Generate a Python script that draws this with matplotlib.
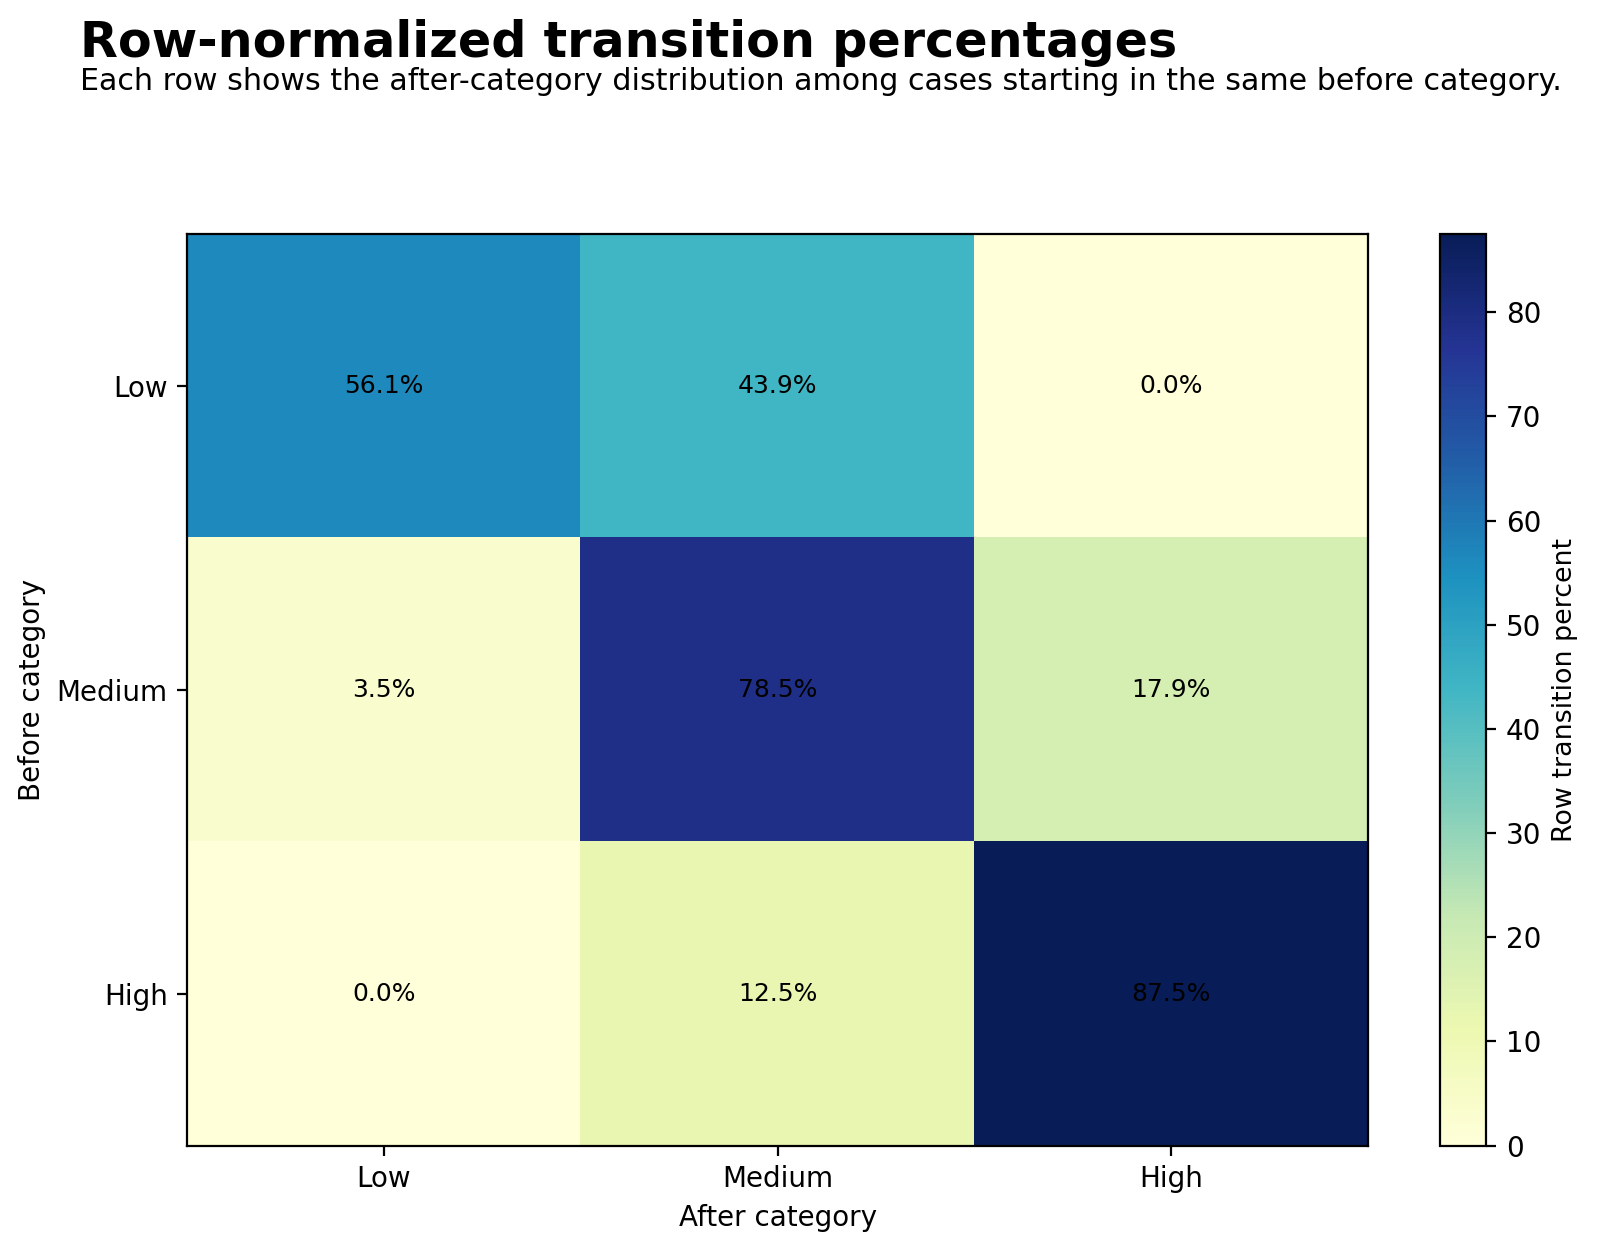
import numpy as np
import matplotlib.pyplot as plt

categories = ["Low", "Medium", "High"]
percent = np.array([
    [56.1, 43.9, 0.0],
    [3.5, 78.5, 17.9],
    [0.0, 12.5, 87.5],
])

fig = plt.figure(figsize=(8, 6.26), dpi=200)
ax = fig.add_axes([0.117, 0.085, 0.738, 0.728])
cax = fig.add_axes([0.900, 0.085, 0.029, 0.728])

im = ax.imshow(percent, cmap="YlGnBu", aspect="auto", vmin=0, vmax=percent.max())

for i in range(len(categories)):
    for j in range(len(categories)):
        ax.text(j, i, f"{percent[i, j]:.1f}%", ha="center", va="center", fontsize=9, color="black")

ax.set_xticks(range(len(categories)))
ax.set_xticklabels(categories, fontsize=10)
ax.set_yticks(range(len(categories)))
ax.set_yticklabels(categories, fontsize=10)
ax.set_xlabel("After category", fontsize=10)
ax.set_ylabel("Before category", fontsize=10)

cb = fig.colorbar(im, cax=cax)
cb.set_label("Row transition percent", fontsize=9.7)
cb.ax.tick_params(labelsize=10)

fig.text(0.050, 0.966, "Row-normalized transition percentages", fontsize=17.75, fontweight="bold", va="center")
fig.text(0.050, 0.935, "Each row shows the after-category distribution among cases starting in the same before category.",
         fontsize=10.85, va="center")

fig.savefig("out.png", dpi=200)
